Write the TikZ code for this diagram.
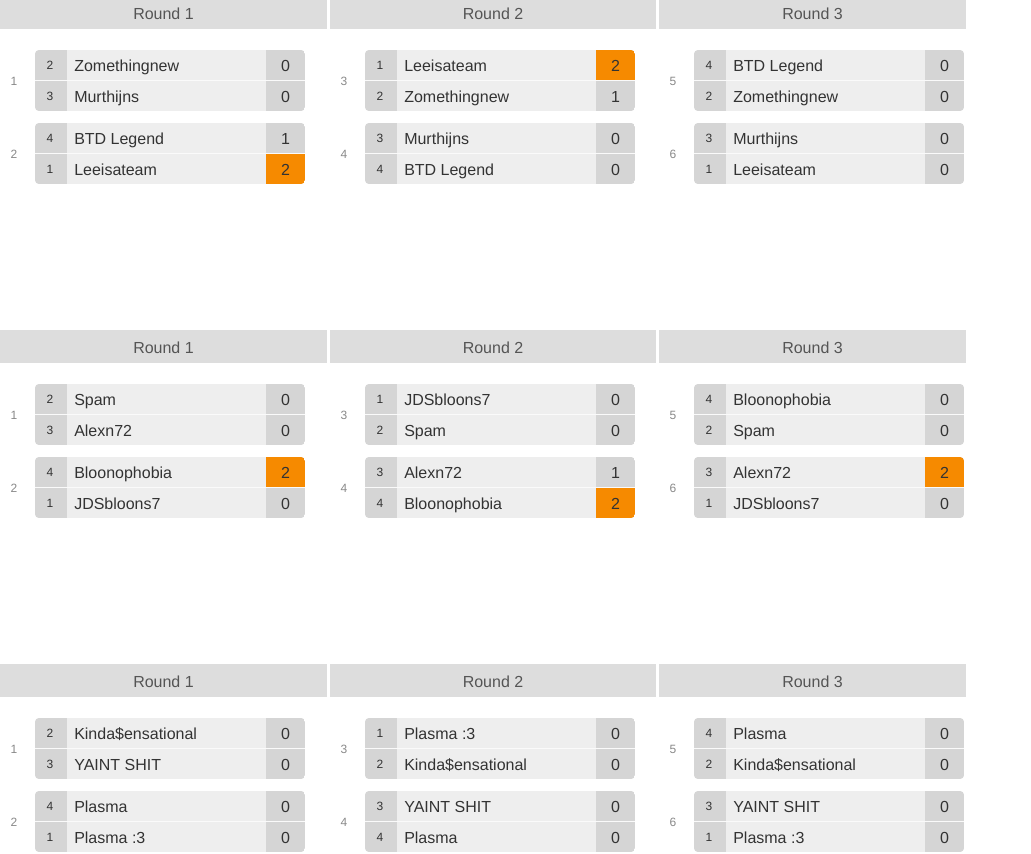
\documentclass[tikz,border=0pt]{standalone}
\usepackage{fontspec}
\setmainfont{Liberation Sans}
\definecolor{hdrbg}{HTML}{DDDDDD}
\definecolor{hdrtx}{HTML}{555555}
\definecolor{boxbg}{HTML}{EEEEEE}
\definecolor{cellbg}{HTML}{D5D5D5}
\definecolor{winbg}{HTML}{F68A00}
\definecolor{nametx}{HTML}{333333}
\definecolor{labtx}{HTML}{888888}
\begin{document}
\begin{tikzpicture}[x=0.75pt,y=-0.75pt,
  hdrtext/.style={anchor=base,inner sep=0pt,font=\fontsize{12pt}{14pt}\selectfont,text=hdrtx},
  nametext/.style={anchor=base west,inner sep=0pt,font=\fontsize{12pt}{14pt}\selectfont,text=nametx},
  scoretext/.style={anchor=base,inner sep=0pt,font=\fontsize{12pt}{14pt}\selectfont,text=nametx},
  seedtext/.style={anchor=base,inner sep=0pt,font=\fontsize{9pt}{11pt}\selectfont,text=nametx},
  labtext/.style={anchor=base,inner sep=0pt,font=\fontsize{9pt}{11pt}\selectfont,text=labtx}]
\useasboundingbox (0,0) rectangle (1031,853);
\clip (0,0) rectangle (1031,853);
% headers
\foreach \s in {0,1,2}{
  \foreach \c/\hx/\hw/\r in {0/0/327/1,1/330/326/2,2/659/307/3}{
    \pgfmathsetmacro\hdry{-4+334*\s}
    \fill[hdrbg] (\hx,\hdry) rectangle ++(\hw,33);
    \node[hdrtext] (hdr-\s-\c) at ({\hx+\hw/2},{\hdry+23}) {Round \r};
  }
}
% matches
\foreach \s/\c/\m/\lab/\sa/\na/\pa/\wa/\sb/\nb/\pb/\wb in {
  0/0/0/1/2/Zomethingnew/0/0/3/Murthijns/0/0,
  0/0/1/2/4/BTD Legend/1/0/1/Leeisateam/2/1,
  0/1/0/3/1/Leeisateam/2/1/2/Zomethingnew/1/0,
  0/1/1/4/3/Murthijns/0/0/4/BTD Legend/0/0,
  0/2/0/5/4/BTD Legend/0/0/2/Zomethingnew/0/0,
  0/2/1/6/3/Murthijns/0/0/1/Leeisateam/0/0,
  1/0/0/1/2/Spam/0/0/3/Alexn72/0/0,
  1/0/1/2/4/Bloonophobia/2/1/1/JDSbloons7/0/0,
  1/1/0/3/1/JDSbloons7/0/0/2/Spam/0/0,
  1/1/1/4/3/Alexn72/1/0/4/Bloonophobia/2/1,
  1/2/0/5/4/Bloonophobia/0/0/2/Spam/0/0,
  1/2/1/6/3/Alexn72/2/1/1/JDSbloons7/0/0,
  2/0/0/1/2/Kinda\$ensational/0/0/3/YAINT SHIT/0/0,
  2/0/1/2/4/Plasma/0/0/1/Plasma :3/0/0,
  2/1/0/3/1/Plasma :3/0/0/2/Kinda\$ensational/0/0,
  2/1/1/4/3/YAINT SHIT/0/0/4/Plasma/0/0,
  2/2/0/5/4/Plasma/0/0/2/Kinda\$ensational/0/0,
  2/2/1/6/3/YAINT SHIT/0/0/1/Plasma :3/0/0}{
  \pgfmathsetmacro\mx{{35,365,694}[\c]}
  \pgfmathsetmacro\my{50+334*\s+73*\m}
  \begin{scope}
    \clip[rounded corners=3] (\mx,\my) rectangle ++(270,61);
    \fill[boxbg] (\mx,\my) rectangle ++(270,61);
    \fill[cellbg] (\mx,\my) rectangle ++(32,61);
    \fill[cellbg] ({\mx+231},\my) rectangle ++(39,61);
    \ifnum\wa=1 \fill[winbg] ({\mx+231},\my) rectangle ++(39,30);\fi
    \ifnum\wb=1 \fill[winbg] ({\mx+231},{\my+31}) rectangle ++(39,30);\fi
    \fill[white!70!boxbg] (\mx,{\my+30}) rectangle ++(270,1);
  \end{scope}
  \node[labtext] (lab-\s-\c-\m) at ({\mx-21},{\my+35.5}) {\lab};
  \node[seedtext] (seeda-\s-\c-\m) at ({\mx+15},{\my+19}) {\sa};
  \node[nametext] (namea-\s-\c-\m) at ({\mx+39},{\my+21}) {\na};
  \node[scoretext] (scorea-\s-\c-\m) at ({\mx+250.5},{\my+21}) {\pa};
  \node[seedtext] (seedb-\s-\c-\m) at ({\mx+15},{\my+50}) {\sb};
  \node[nametext] (nameb-\s-\c-\m) at ({\mx+39},{\my+52}) {\nb};
  \node[scoretext] (scoreb-\s-\c-\m) at ({\mx+250.5},{\my+52}) {\pb};
}
\end{tikzpicture}
\end{document}
